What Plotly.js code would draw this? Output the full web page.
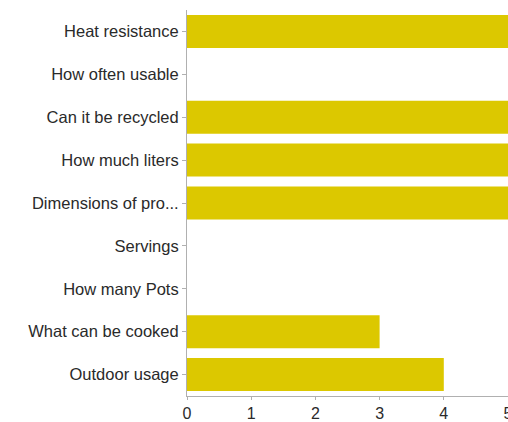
<!DOCTYPE html>
<html>
<head>
<meta charset="utf-8">
<script src="https://cdn.plot.ly/plotly-3.0.1.min.js"></script>
<style>html,body{margin:0;padding:0;background:#fff;}#chart{width:508px;height:422px;}</style>
</head>
<body>
<div id="chart"></div>
<script>
const categories = ["Heat resistance","How often usable","Can it be recycled","How much liters","Dimensions of pro...","Servings","How many Pots","What can be cooked","Outdoor usage"];
const values = [5,0,5,5,5,0,0,3,4];
const xTicks = [0,1,2,3,4,5];

const trace = {
  type: 'bar',
  orientation: 'h',
  y: categories,
  x: values,
  marker: {color: 'rgb(220,200,0)'},
  hoverinfo: 'none'
};

const layout = {
  width: 508, height: 422,
  margin: {l: 187, r: 0, t: 10, b: 26, pad: 0},
  paper_bgcolor: '#fff', plot_bgcolor: '#fff',
  font: {family: 'Liberation Sans, Arial, sans-serif', size: 16, color: '#2a2a2a'},
  bargap: 0.23,
  showlegend: false,
  xaxis: {
    range: [0, 5], tickvals: xTicks, ticktext: xTicks.map(String),
    showgrid: false, zeroline: false,
    showline: true, linecolor: '#b0b0b0', linewidth: 1,
    ticks: 'outside', ticklen: 3, tickcolor: '#b0b0b0',
    ticklabeloverflow: 'allow',
    tickfont: {size: 16}
  },
  yaxis: {
    type: 'category', autorange: 'reversed',
    showgrid: false, zeroline: false,
    showline: true, linecolor: '#b0b0b0', linewidth: 1,
    ticks: 'outside', ticklen: 4, tickcolor: '#b0b0b0',
    ticklabelstandoff: 0,
    tickfont: {size: 16.5}
  }
};

Plotly.newPlot('chart', [trace], layout, {staticPlot: true, displayModeBar: false});
</script>
</body>
</html>
